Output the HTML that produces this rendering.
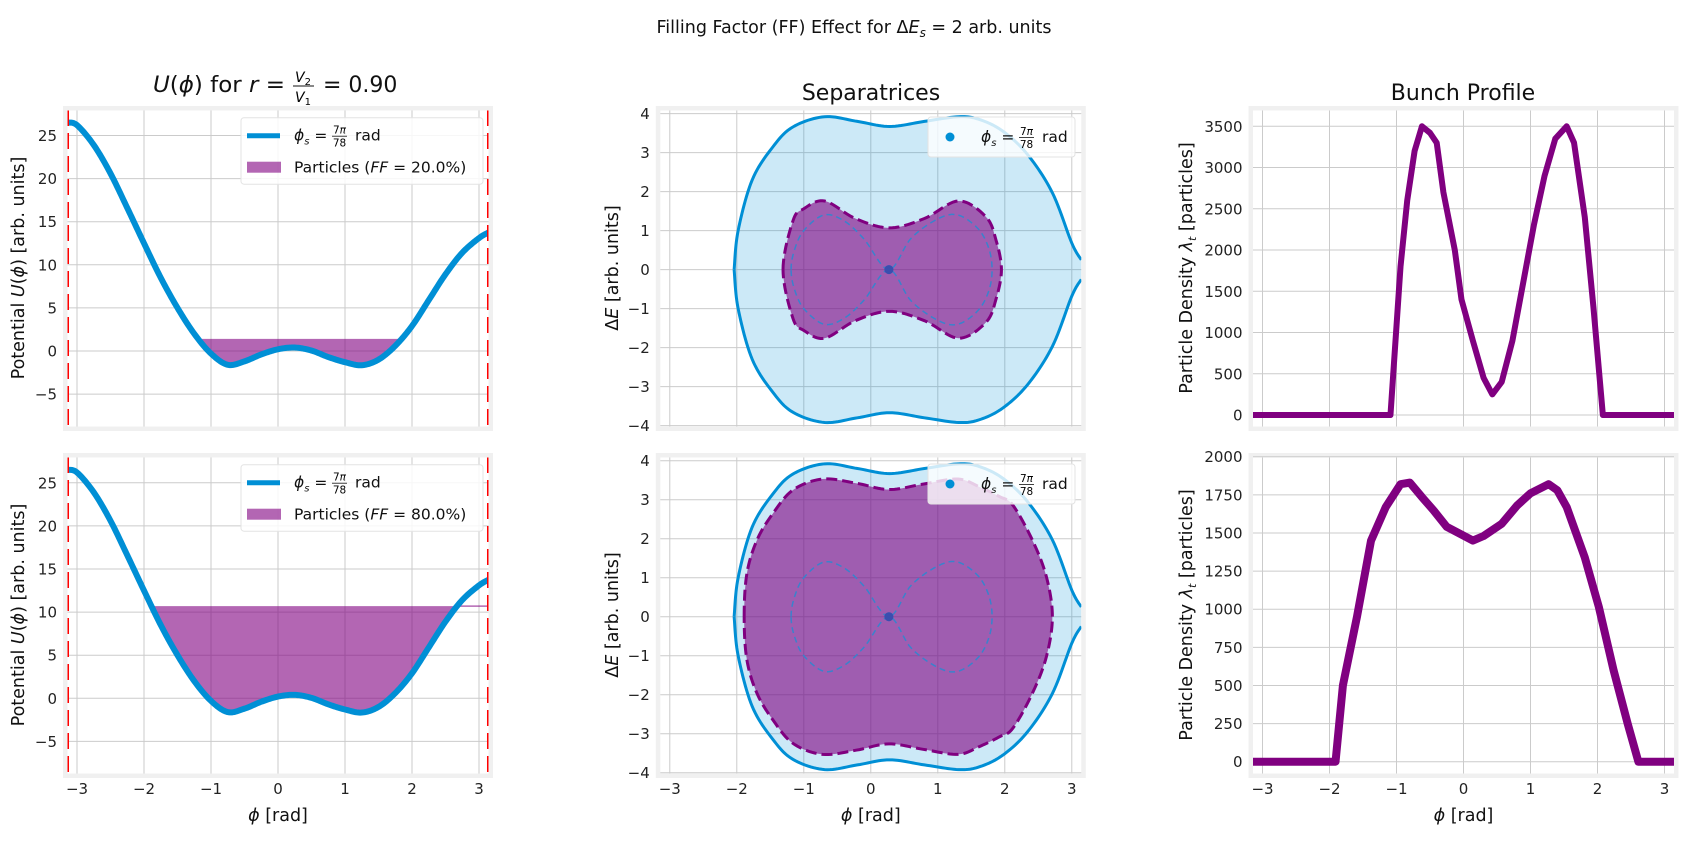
<!DOCTYPE html>
<html><head><meta charset="utf-8">
<style>
html,body{margin:0;padding:0;background:#fff;}
svg{display:block;font-family:"DejaVu Sans","Liberation Sans",sans-serif;}
.tk{font-size:15px;fill:#222;}
.lab{font-size:17.5px;fill:#111;}
.ttl{font-size:22px;fill:#111;}
.lg{font-size:15.5px;fill:#111;}
</style></head>
<body>
<svg id="fig" width="1707" height="847" viewBox="0 0 1707 847" xmlns="http://www.w3.org/2000/svg">
<text x="854" y="33" text-anchor="middle" font-size="17.5" fill="#111">Filling Factor (FF) Effect for Δ<tspan font-style="italic">E</tspan><tspan font-size="12" dy="4" font-style="italic">s</tspan><tspan dy="-4"> = 2 arb. units</tspan></text>

<g>
<text class="ttl" x="153" y="92" textLength="132" lengthAdjust="spacingAndGlyphs"><tspan font-style="italic">U</tspan>(<tspan font-style="italic">ϕ</tspan>) for <tspan font-style="italic">r</tspan> =</text>
<text x="303" y="82" font-size="14" text-anchor="middle" font-style="italic">V<tspan font-size="10" dy="3" font-style="normal">2</tspan></text>
<line x1="293" x2="314" y1="86" y2="86" stroke="#111" stroke-width="1"/>
<text x="303" y="102" font-size="14" text-anchor="middle" font-style="italic">V<tspan font-size="10" dy="3" font-style="normal">1</tspan></text>
<text class="ttl" x="323" y="92">= 0.90</text>
</g>
<text class="ttl" x="871" y="100" text-anchor="middle">Separatrices</text>
<text class="ttl" x="1463" y="100" text-anchor="middle">Bunch Profile</text>
<g id="panels"></g>
</svg>
<script>
// ---------- data ----------
const potPhi=[-3.1416,-3.0,-2.75,-2.5,-2.25,-2.0,-1.75,-1.5,-1.25,-1.0,-0.75,-0.5,-0.25,0,0.25,0.5,0.75,1.0,1.25,1.5,1.75,2.0,2.25,2.5,2.75,3.0,3.1416];
const potU=[26.5,26.2,23.9,20.6,16.6,12.5,8.5,5.0,2.0,-0.3,-1.6,-1.2,-0.4,0.2,0.4,0.05,-0.7,-1.3,-1.65,-1.0,0.6,2.9,5.9,8.9,11.4,13.1,13.75];
const ffPercent=[20.0,80.0];
const ffLevels=[1.4,10.7];

const outerPhi=[-2.04,-1.98,-1.77,-1.46,-1.16,-0.69,-0.2,0.28,0.8,1.31,1.62,1.97,2.34,2.71,3.0,3.1416];
const outerDE=[0,1.0,2.3,3.15,3.66,3.92,3.8,3.67,3.8,3.92,3.85,3.55,2.95,1.97,0.68,0.25];
const ff20Phi=[-1.31,-1.16,-1.0,-0.69,-0.23,0.28,0.8,1.31,1.72,1.87,1.95];
const ff20DE=[0,1.26,1.56,1.76,1.31,1.07,1.31,1.76,1.35,0.75,0];
const ff80Phi=[-1.89,-1.85,-1.7,-1.46,-1.16,-0.72,-0.21,0.27,0.78,1.3,1.62,1.92,2.12,2.41,2.62,2.71];
const ff80DE=[0,1.1,1.96,2.65,3.25,3.53,3.42,3.26,3.4,3.53,3.33,3.08,2.86,1.97,1.03,0];
const sepPhi=[-1.19,-1.14,-1.0,-0.7,-0.4,-0.1,0.27,0.6,1.0,1.3,1.6,1.76,1.81];
const sepDE=[0,0.5,1.0,1.4,1.25,0.78,0,0.8,1.3,1.4,1.05,0.55,0];
const phiS=0.27;

const bunch1Phi=[-3.1416,-1.09,-0.94,-0.84,-0.73,-0.62,-0.5,-0.4,-0.3,-0.13,-0.03,0.14,0.30,0.43,0.57,0.73,0.89,1.05,1.21,1.37,1.54,1.65,1.81,1.94,2.08,3.1416];
const bunch1Val=[0,0,1800,2600,3200,3500,3420,3300,2700,2000,1400,900,450,250,400,900,1600,2300,2900,3350,3500,3300,2400,1300,0,0];
const bunch2Phi=[-3.1416,-1.91,-1.8,-1.59,-1.38,-1.16,-0.94,-0.8,-0.62,-0.45,-0.25,0.14,0.3,0.57,0.8,1.0,1.27,1.4,1.54,1.81,2.02,2.24,2.45,2.61,3.1416];
const bunch2Val=[0,0,500,950,1450,1670,1820,1830,1735,1650,1540,1450,1480,1560,1680,1760,1820,1780,1670,1340,1015,600,250,0,0];

const xTicks=[-3,-2,-1,0,1,2,3];
const potYTicks=[-5,0,5,10,15,20,25];
const deYTicks=[-4,-3,-2,-1,0,1,2,3,4];
const b1YTicks=[0,500,1000,1500,2000,2500,3000,3500];
const b2YTicks=[0,250,500,750,1000,1250,1500,1750,2000];

// ---------- layout ----------
const NS="http://www.w3.org/2000/svg";
const root=document.getElementById('panels');
const colL=[63,655.8,1248.5];
const colC=[278,870.8,1463.5];
const rowT=[106,453];
const PX=67;
function mk(tag,attrs,parent){const e=document.createElementNS(NS,tag);for(const k in attrs)e.setAttribute(k,attrs[k]);(parent||root).appendChild(e);return e;}
function fmt(v){return (v<0?'\u2212':'')+Math.abs(v);}
function cr(pts,closed,n){n=n||10;const out=[];const N=pts.length;
  const g=i=>closed?pts[(i+N)%N]:pts[Math.max(0,Math.min(N-1,i))];
  const segs=closed?N:N-1;
  for(let i=0;i<segs;i++){const p0=g(i-1),p1=g(i),p2=g(i+1),p3=g(i+2);
    for(let k=0;k<n;k++){const t=k/n,t2=t*t,t3=t2*t;
      const f=(a,b,c,d)=>0.5*((2*b)+(-a+c)*t+(2*a-5*b+4*c-d)*t2+(-a+3*b-3*c+d)*t3);
      out.push([f(p0[0],p1[0],p2[0],p3[0]),f(p0[1],p1[1],p2[1],p3[1])]);}}
  if(!closed)out.push(pts[N-1]);return out;}
function pathOf(pts,close){return 'M'+pts.map(p=>p[0].toFixed(2)+','+p[1].toFixed(2)).join('L')+(close?'Z':'');}

function makeAxes(c,r,name,yTicks,ymap,showX){
  const L=colL[c],T=rowT[r];
  const g=mk('g',{});
  
  
  const fr=mk('rect',{x:L+2.25,y:T+2.25,width:425.5,height:320.5,fill:'#fff',stroke:'#f0f0f0','stroke-width':4.5},g);
  
  
  const cid='clip'+c+r;
  const cp=mk('clipPath',{id:cid},g);mk('rect',{x:L+4.5,y:T+4.5,width:421,height:316},cp);
  const grid=mk('g',{stroke:'#cbcbcb','stroke-width':1},g);
  
  
  const xm=v=>colC[c]+PX*v;
  xTicks.forEach(t=>{mk('line',{x1:xm(t),x2:xm(t),y1:T+4.5,y2:T+320.5},grid);
    if(showX){const tl=mk('text',{x:xm(t),y:794,'text-anchor':'middle',class:'tk'},g);tl.textContent=fmt(t);
      
      }});
  yTicks.forEach(t=>{const y=ymap(t);mk('line',{x1:L+4.5,x2:L+425.5,y1:y,y2:y},grid);
    const tl=mk('text',{x:L-6,y:y+5.5,'text-anchor':'end',class:'tk'},g);tl.textContent=fmt(t);
    
    });
  const plot=mk('g',{'clip-path':'url(#'+cid+')'},g);
  
  
  if(showX){const xl=mk('text',{x:colC[c],y:821,'text-anchor':'middle',class:'lab'},g);
    xl.innerHTML='<tspan font-style="italic">ϕ</tspan> [rad]';
    
    }
  return {g,plot,xm,ymap,L,T};
}
function ylabel(g,x,y,html){const t=mk('text',{x:x,y:y,'text-anchor':'middle',class:'lab',transform:'rotate(-90 '+x+' '+y+')'},g);t.innerHTML=html;
  
  }
function phiLegendText(g,x,y){
  const t=mk('text',{x:x,y:y,class:'lg'},g);
  t.innerHTML='<tspan font-style="italic">ϕ</tspan><tspan font-size="10" dy="4" font-style="italic">s</tspan><tspan dy="-4"> =</tspan>';
  const a=mk('text',{x:x+45.5,y:y-7,'font-size':10.5,'text-anchor':'middle'},g);a.innerHTML='7<tspan font-style="italic">π</tspan>';
  mk('line',{x1:x+38,x2:x+53,y1:y-4.5,y2:y-4.5,stroke:'#111','stroke-width':0.8},g);
  const b=mk('text',{x:x+45.5,y:y+6,'font-size':10.5,'text-anchor':'middle'},g);b.textContent='78';
  const c=mk('text',{x:x+61,y:y,class:'lg'},g);c.textContent='rad';
}

// ---------- potential panels ----------
for(let r=0;r<2;r++){
  const y0=[351,698.3][r];
  const A=makeAxes(0,r,'potential-panel-'+(r+1),potYTicks,v=>y0-8.62*v,r===1);
  ylabel(A.g,24,268+347*r,'Potential <tspan font-style="italic">U</tspan>(<tspan font-style="italic">ϕ</tspan>) [arb. units]');
  const dense=cr(potPhi.map((p,i)=>[p,potU[i]]),false,16);
  const lvl=ffLevels[r];
  let i0=dense.findIndex(p=>p[0]>0);let a=i0,b=i0;
  while(a>0&&dense[a-1][1]<lvl)a--; while(b<dense.length-1&&dense[b+1][1]<lvl)b++;
  const crossX=(i,j)=>{const p=dense[i],q=dense[j];return p[0]+(lvl-p[1])*(q[0]-p[0])/(q[1]-p[1]);};
  const xa=a>0?crossX(a-1,a):dense[a][0], xb=b<dense.length-1?crossX(b,b+1):dense[b][0];
  const poly=[[A.xm(xa),A.ymap(lvl)]];
  for(let k=a;k<=b;k++)poly.push([A.xm(dense[k][0]),A.ymap(dense[k][1])]);
  poly.push([A.xm(xb),A.ymap(lvl)]);
  const fp=mk('path',{d:pathOf(poly,true),fill:'#800080','fill-opacity':0.6},A.plot);
  
  
  if(r===1){const ln=mk('line',{x1:A.xm(xb),x2:A.xm(Math.PI),y1:A.ymap(lvl),y2:A.ymap(lvl),stroke:'#800080','stroke-opacity':0.6,'stroke-width':1.5},A.plot);
    
    }
  const cv=mk('path',{d:pathOf(dense.map(p=>[A.xm(p[0]),A.ymap(p[1])])),fill:'none',stroke:'#008fd5','stroke-width':6,'stroke-linejoin':'round'},A.plot);
  
  
  [-Math.PI,Math.PI].forEach(v=>{const d=mk('line',{x1:A.xm(v),x2:A.xm(v),y1:A.T+4,y2:A.T+322,stroke:'#ff0000','stroke-width':3,'stroke-dasharray':'16 7'},A.plot);
    
    });
  const lg=mk('g',{},A.g);
  
  
  const ty=117.7+347*r;
  mk('rect',{x:241,y:ty,width:242,height:66.5,rx:3,fill:'#fff','fill-opacity':0.85,stroke:'#e3e3e3'},lg);
  mk('line',{x1:247,x2:280,y1:ty+18,y2:ty+18,stroke:'#008fd5','stroke-width':5},lg);
  phiLegendText(lg,294,ty+23);
  mk('rect',{x:247,y:ty+44,width:34,height:11,fill:'#800080','fill-opacity':0.6},lg);
  const pt=mk('text',{x:294,y:ty+55,class:'lg'},lg);
  pt.innerHTML='Particles (<tspan font-style="italic">FF</tspan> = '+ffPercent[r].toFixed(1)+'%)';
}

// ---------- separatrix panels ----------
for(let r=0;r<2;r++){
  const y0=[269.6,616.7][r];
  const A=makeAxes(1,r,'separatrix-panel-'+(r+1),deYTicks,v=>y0-39*v,r===1);
  ylabel(A.g,618,268+347*r,'Δ<tspan font-style="italic">E</tspan> [arb. units]');
  const P=p=>[A.xm(p[0]),A.ymap(p[1])];
  const upO=cr(outerPhi.map((p,i)=>P([p,outerDE[i]])),false,12);
  const loO=cr(outerPhi.map((p,i)=>P([p,-outerDE[i]])),false,12);
  const of=mk('path',{d:pathOf(upO.concat(loO.slice().reverse()),true),fill:'#008fd5','fill-opacity':0.2},A.plot);
  
  
  const ph=r===0?ff20Phi:ff80Phi, de=r===0?ff20DE:ff80DE;
  const pts=[];ph.forEach((p,i)=>pts.push(P([p,de[i]])));
  for(let i=ph.length-2;i>=1;i--)pts.push(P([ph[i],-de[i]]));
  const inner=cr(pts,true,12);
  const inf=mk('path',{d:pathOf(inner,true),fill:'#800080','fill-opacity':0.6},A.plot);
  
  
  const sp=[];sepPhi.forEach((p,i)=>sp.push(P([p,sepDE[i]])));
  for(let i=sepPhi.length-2;i>=1;i--)sp.push(P([sepPhi[i],-sepDE[i]]));
  const s8=mk('path',{d:pathOf(cr(sp,true,12),true),fill:'none',stroke:'#3a82cc','stroke-width':1.5,'stroke-dasharray':'6 4'},A.plot);
  
  
  const ins=mk('path',{d:pathOf(inner,true),fill:'none',stroke:'#800080','stroke-width':3,'stroke-dasharray':'11 5'},A.plot);
  
  
  const o1=mk('path',{d:pathOf(upO),fill:'none',stroke:'#008fd5','stroke-width':3},A.plot);
  
  
  const o2=mk('path',{d:pathOf(loO),fill:'none',stroke:'#008fd5','stroke-width':3},A.plot);
  
  
  const dot=mk('circle',{cx:A.xm(phiS),cy:A.ymap(0),r:4.5,fill:'#008fd5'},A.plot);
  
  
  mk('circle',{cx:A.xm(phiS),cy:A.ymap(0),r:4.5,fill:'#800080','fill-opacity':0.45},A.plot);
  const lg=mk('g',{},A.g);
  
  
  const ty=117+347*r;
  mk('rect',{x:928,y:ty,width:147,height:40,rx:3,fill:'#fff','fill-opacity':0.8,stroke:'#e3e3e3'},lg);
  mk('circle',{cx:950,cy:ty+20,r:4.5,fill:'#008fd5'},lg);
  phiLegendText(lg,981,ty+25);
}

// ---------- bunch profile panels ----------
const bunchData=[[bunch1Phi,bunch1Val,b1YTicks,v=>415-0.08249*v,6],[bunch2Phi,bunch2Val,b2YTicks,v=>761.7-0.1525*v,8]];
for(let r=0;r<2;r++){
  const [ph,vals,ticks,ym,w]=bunchData[r];
  const A=makeAxes(2,r,'bunch-profile-panel-'+(r+1),ticks,ym,r===1);
  ylabel(A.g,1192,268+347*r,'Particle Density <tspan font-style="italic">λ</tspan><tspan font-size="11" dy="4" font-style="italic">t</tspan><tspan dy="-4"> [particles]</tspan>');
  const pts=ph.map((p,i)=>[A.xm(p),A.ymap(vals[i])]);
  const ln=mk('path',{d:pathOf(pts),fill:'none',stroke:'#800080','stroke-width':w,'stroke-linejoin':'round'},A.plot);
  
  
}
</script>
</body></html>
